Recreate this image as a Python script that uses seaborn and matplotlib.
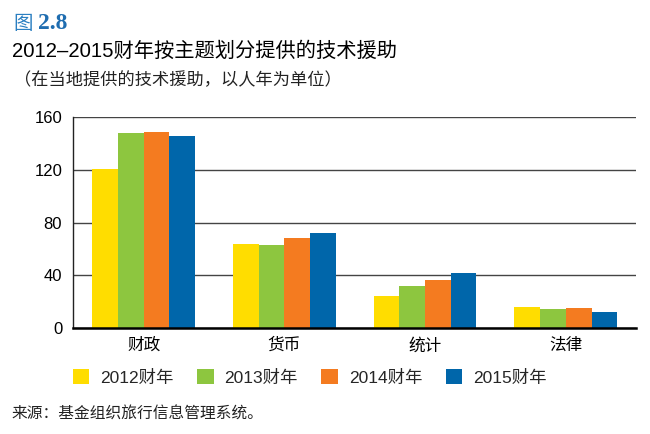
import matplotlib
matplotlib.use("Agg")
import matplotlib.pyplot as plt
import seaborn as sns
import pandas as pd

categories = ["财政", "货币", "统计", "法律"]
years = ["2012财年", "2013财年", "2014财年", "2015财年"]
v2012 = [121, 64, 24, 16]
v2013 = [148, 63, 32, 14]
v2014 = [149, 68, 36, 15]
v2015 = [146, 72, 42, 12]
yticks = [0, 40, 80, 120, 160]
colors = ["#FFDD00", "#8DC63F", "#F47B20", "#0066AA"]

rows = []
for yr, vals in zip(years, [v2012, v2013, v2014, v2015]):
    for c, v in zip(categories, vals):
        rows.append({"cat": c, "year": yr, "val": v})
df = pd.DataFrame(rows)

sns.set_theme(style="white")
plt.rcParams["font.family"] = ["Liberation Sans", "Noto Sans CJK SC", "DejaVu Sans"]

fig = plt.figure(figsize=(6.5, 4.34), dpi=100)
ax = fig.add_axes([0.1128, 0.2445, 0.866, 0.4855])

sns.barplot(data=df, x="cat", y="val", hue="year", palette=colors,
            width=0.73, saturation=1, ax=ax, zorder=3, linewidth=0)

ax.set_ylim(0, 160)
ax.set_yticks(yticks)
ax.set_xlim(-0.5, 3.5)
ax.set_xlabel("")
ax.set_ylabel("")
ax.yaxis.grid(True, color="#444444", linewidth=1.0, zorder=0)
ax.xaxis.grid(False)
for s in ["top", "right"]:
    ax.spines[s].set_visible(False)
ax.spines["left"].set_color("#222222")
ax.spines["left"].set_linewidth(1.0)
ax.spines["bottom"].set_color("black")
ax.spines["bottom"].set_linewidth(1.8)
ax.spines["bottom"].set_zorder(5)
ax.tick_params(axis="both", length=0, labelsize=12, colors="black")
ax.tick_params(axis="y", pad=8)
ax.tick_params(axis="x", pad=7)

handles, labels = ax.get_legend_handles_labels()
ax.legend_.remove()
fig.legend(handles, labels, loc="center left", bbox_to_anchor=(0.112, 0.130), ncol=4,
           frameon=False, fontsize=12.5, handlelength=0.95, handleheight=0.9,
           columnspacing=1.35, handletextpad=0.63, borderpad=0, borderaxespad=0)

fig.text(0.021, 0.947, "图", color="#2A7FC1", fontsize=14, va="center",
         family=["Noto Sans CJK SC"])
fig.text(0.059, 0.947, "2.8", color="#1F6DB0", fontsize=17, va="center",
         fontweight="bold", family=["Liberation Serif"])
fig.text(0.018, 0.882, "2012–2015财年按主题划分提供的技术援助", fontsize=14.6,
         va="center", color="black")
fig.text(0.021, 0.816, "（在当地提供的技术援助，以人年为单位）", fontsize=12.4,
         va="center", color="#222222")
fig.text(0.017, 0.046, "来源：基金组织旅行信息管理系统。", fontsize=11.3,
         va="center", color="#222222")

fig.savefig("out.png", dpi=100)
